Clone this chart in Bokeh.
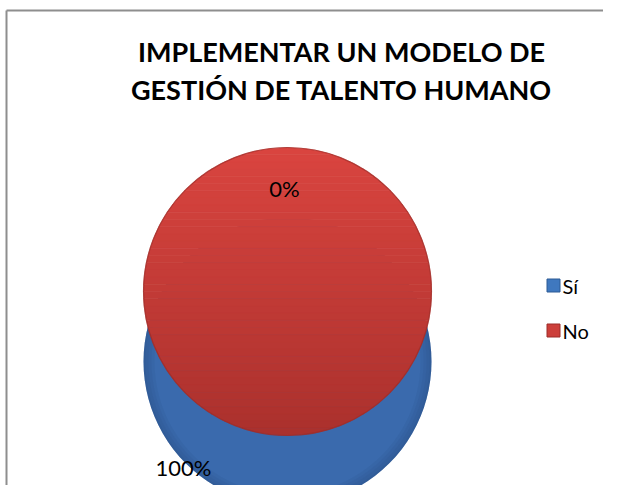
from bokeh.plotting import figure
from bokeh.models import Range1d
from bokeh.core.properties import value
from bokeh.embed import file_html
from bokeh.resources import INLINE
import math

# data
categories = ["Sí", "No"]
values = [100, 0]
labels = ["100%", "0%"]
colors = ["#3a6aad", "#c43d38"]
title_lines = ["IMPLEMENTAR UN MODELO DE", "GESTIÓN DE TALENTO HUMANO"]

W, H = 603, 485
p = figure(width=W, height=H, output_backend="svg", toolbar_location=None,
           x_range=Range1d(0, W), y_range=Range1d(0, H), min_border=0)
p.axis.visible = False
p.grid.visible = False
p.outline_line_color = None
p.background_fill_color = "white"
p.border_fill_color = "white"

# frame (top and left edges visible in the reference)
p.segment(x0=[6, 6], y0=[475, 475], x1=[W, 6], y1=[475, 0], line_color="#8e8e8e", line_width=2)

cx, top_y, r, depth = 287, 194, 144, 70
total = sum(values)
ang = [2 * math.pi * v / total for v in values]

# blue body (Sí, 100%) seen below the top face
p.wedge(x=cx, y=top_y - depth, radius=r, start_angle=0, end_angle=max(ang[0] - 1e-6, 0),
        fill_color=colors[0], line_color=None)
for k in range(4):
    p.annular_wedge(x=cx, y=top_y - depth, inner_radius=r - 2 - 3 * k, outer_radius=r,
                    start_angle=0, end_angle=2 * math.pi - 1e-6,
                    fill_color="#1d3c66", fill_alpha=0.07, line_color=None)


def hexmix(c1, c2, t):
    a = [int(c1[i:i + 2], 16) for i in (1, 3, 5)]
    b = [int(c2[i:i + 2], 16) for i in (1, 3, 5)]
    return "#" + "".join("%02x" % round(a[j] + (b[j] - a[j]) * t) for j in range(3))


# top face: vertical gradient built from horizontal bands of the circle
n = 40
xs, ys, cs = [], [], []
for i in range(n):
    y0 = top_y + r - 2 * r * i / n
    y1 = top_y + r - 2 * r * (i + 1) / n
    pts_l, pts_r = [], []
    for yy in [y0 + (y1 - y0) * j / 6 for j in range(7)]:
        dx = math.sqrt(max(r * r - (yy - top_y) ** 2, 0))
        pts_r.append((cx + dx, yy))
        pts_l.append((cx - dx, yy))
    poly = pts_r + pts_l[::-1]
    xs.append([q[0] for q in poly])
    ys.append([q[1] for q in poly])
    cs.append(hexmix("#d9443f", "#ab312d", i / (n - 1)))
p.patches(xs=xs, ys=ys, fill_color=cs, line_color=cs, line_width=0.6)
p.circle(x=cx, y=top_y, radius=r, fill_color=None, line_color="#9c2c28", line_width=1.2, line_alpha=0.7)

# data labels
p.text(x=[183, 284], y=[18, 297], text=labels, text_font=value("Lato"), text_font_size="22px",
       text_align="center", text_baseline="middle", text_color="black")

# title
p.text(x=[341, 341], y=[434, 396], text=title_lines, text_font=value("Lato"),
       text_font_size="27px", text_font_style="bold", text_align="center",
       text_baseline="middle", text_color="black")

# legend
p.rect(x=[553, 553], y=[200, 155], width=13, height=13, fill_color=["#3f78bf", "#cc3f3a"],
       line_color=["#2d5a95", "#9c2c28"], line_width=1)
p.text(x=[562, 562], y=[200, 155], text=categories, text_font=value("Lato"), text_font_size="20px",
       text_align="left", text_baseline="middle", text_color="black")

open("out.html", "w").write(file_html(p, INLINE))
